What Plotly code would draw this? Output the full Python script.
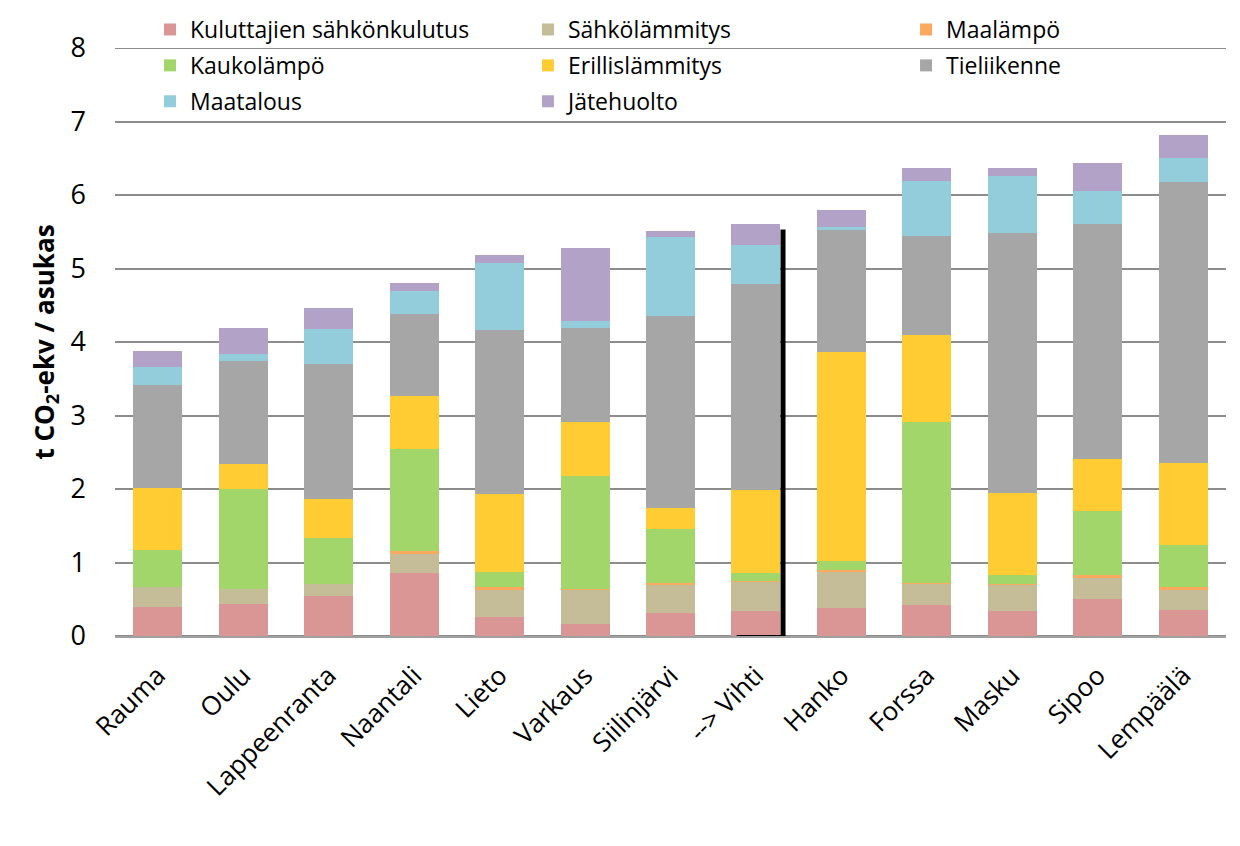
import plotly.graph_objects as go

categories = ["Rauma", "Oulu", "Lappeenranta", "Naantali", "Lieto", "Varkaus",
              "Siilinjärvi", "--> Vihti", "Hanko", "Forssa", "Masku", "Sipoo", "Lempäälä"]

kuluttajien = [0.39, 0.435, 0.544, 0.856, 0.258, 0.163, 0.31, 0.34, 0.38, 0.42, 0.34, 0.505, 0.353]
sahkolammitys = [0.27, 0.20, 0.167, 0.27, 0.38, 0.47, 0.385, 0.40, 0.50, 0.29, 0.36, 0.285, 0.275]
maalampo = [0.0, 0.0, 0.0, 0.025, 0.022, 0.013, 0.02, 0.015, 0.02, 0.015, 0.01, 0.045, 0.04]
kaukolampo = [0.51, 1.37, 0.62, 1.40, 0.21, 1.53, 0.74, 0.10, 0.12, 2.18, 0.12, 0.86, 0.57]
erillislammitys = [0.84, 0.34, 0.53, 0.71, 1.06, 0.73, 0.285, 1.13, 2.85, 1.195, 1.11, 0.71, 1.11]
tieliikenne = [1.41, 1.40, 1.835, 1.12, 2.23, 1.29, 2.62, 2.81, 1.66, 1.345, 3.545, 3.20, 3.83]
maatalous = [0.24, 0.095, 0.475, 0.31, 0.91, 0.095, 1.075, 0.53, 0.04, 0.75, 0.77, 0.45, 0.325]
jatehuolto = [0.22, 0.35, 0.285, 0.11, 0.11, 0.99, 0.08, 0.285, 0.23, 0.175, 0.11, 0.38, 0.31]

y_ticks = [0, 1, 2, 3, 4, 5, 6, 7, 8]

# (name, values, colour, legend column)
series = [
    ("Kuluttajien sähkönkulutus", kuluttajien, "#D99694", "legend"),
    ("Sähkölämmitys", sahkolammitys, "#C4BD97", "legend2"),
    ("Maalämpö", maalampo, "#FAA95E", "legend3"),
    ("Kaukolämpö", kaukolampo, "#A2D66A", "legend"),
    ("Erillislämmitys", erillislammitys, "#FFCD33", "legend2"),
    ("Tieliikenne", tieliikenne, "#A6A6A6", "legend3"),
    ("Maatalous", maatalous, "#93CDDB", "legend"),
    ("Jätehuolto", jatehuolto, "#B3A2C8", "legend2"),
]

FONT = "'Open Sans', sans-serif"
GRID = "#8c8c8c"

fig = go.Figure()
for name, vals, color, leg in series:
    fig.add_trace(go.Bar(x=categories, y=vals, name=name, legend=leg, legendgroup=name,
                         marker=dict(color=color, line=dict(width=0))))

bargap = 0.427
half = (1 - bargap) / 2
vi = categories.index("--> Vihti")
vihti_top = 5.53

# top gridline (plotly drops gridlines that sit exactly on the plot edge)
fig.add_shape(type="line", xref="x domain", x0=0, x1=1, yref="y",
              y0=y_ticks[-1], y1=y_ticks[-1], line=dict(color=GRID, width=2), layer="below")

fig.add_shape(type="path",
              path=f"M {vi + half + 0.03} {vihti_top} L {vi + half + 0.03} -0.02 L {vi - half + 0.06} -0.02",
              xref="x", yref="y", line=dict(color="black", width=5), layer="above")

leg_common = dict(orientation="v", yanchor="top", y=1.068, xanchor="left",
                  font=dict(size=23, family=FONT), tracegroupgap=3,
                  itemwidth=30, bgcolor="rgba(0,0,0,0)", traceorder="grouped")

fig.update_layout(
    barmode="stack",
    bargap=bargap,
    width=1232, height=838,
    margin=dict(l=107, r=14, t=40, b=210, autoexpand=False),
    plot_bgcolor="white", paper_bgcolor="white",
    font=dict(family=FONT, color="black"),
    showlegend=True,
    legend=dict(x=0.0315, **leg_common),
    legend2=dict(x=0.3717, **leg_common),
    legend3=dict(x=0.712, **leg_common),
    xaxis=dict(tickangle=-45, tickfont=dict(size=26), showgrid=False,
               showline=True, linecolor="#a0a0a0", linewidth=2, ticks="",
               ticklabelstandoff=12),
    yaxis=dict(range=[y_ticks[0], y_ticks[-1]], tickvals=y_ticks, tickfont=dict(size=27),
               showgrid=True, gridcolor=GRID, gridwidth=2,
               zeroline=True, zerolinecolor=GRID, zerolinewidth=2,
               ticks="", ticklabelstandoff=28,
               title=dict(text="<b>t CO<sub>2</sub>-ekv / asukas</b>", font=dict(size=26), standoff=8)),
)

fig.write_html("out.html")
